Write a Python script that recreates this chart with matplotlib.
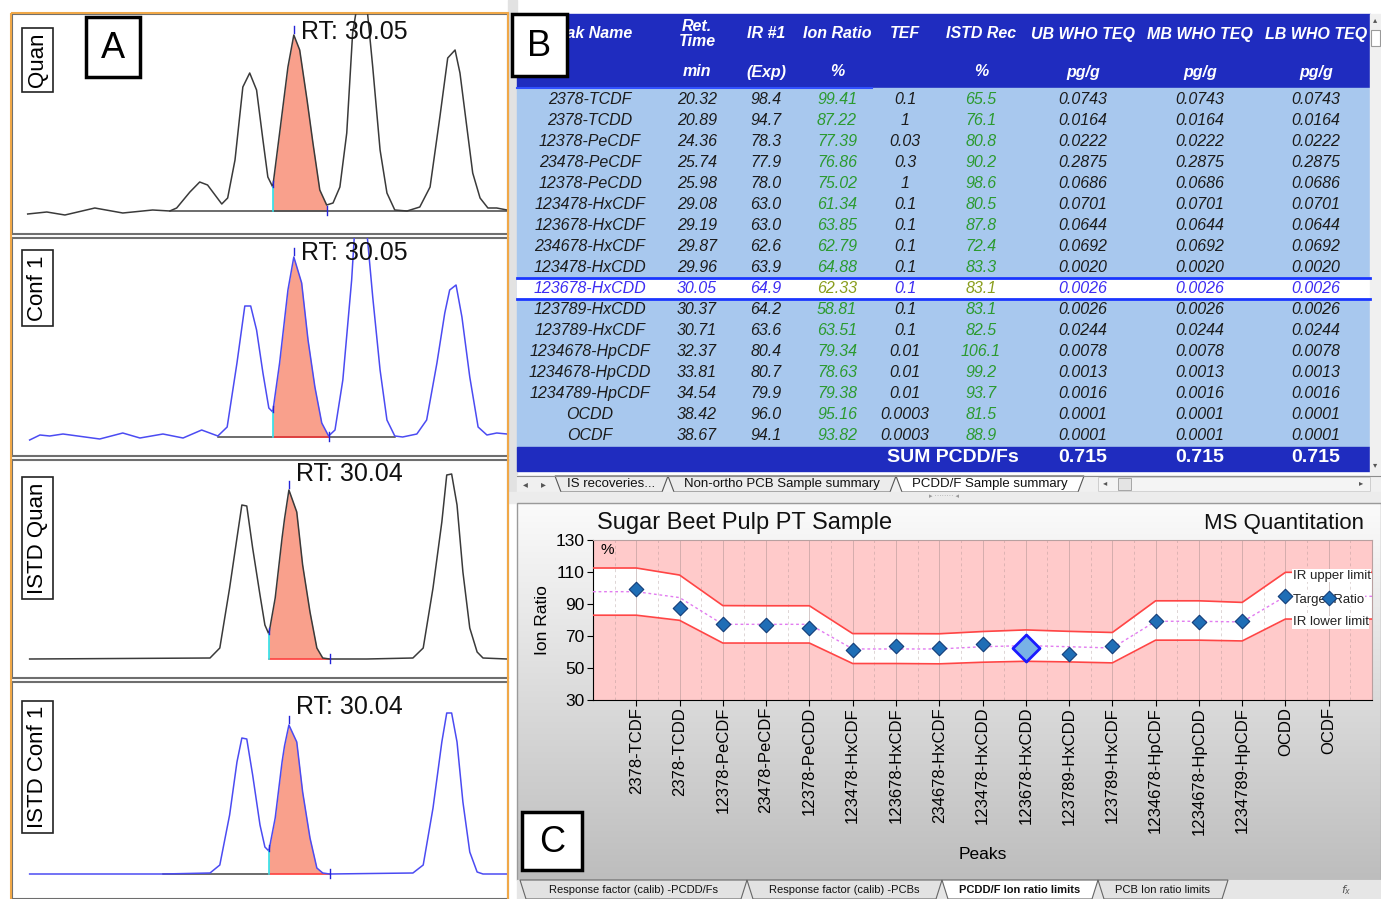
import numpy as np
import matplotlib.pyplot as plt
from matplotlib.patches import Rectangle, Polygon
from matplotlib.colors import LinearSegmentedColormap

W, H = 1381, 899
plt.rcParams['font.family'] = ['Liberation Sans', 'DejaVu Sans']

# ---- chromatograms: retention time (min) and intensity (arbitrary counts) ----
quan_rt = [29.507, 29.546, 29.583, 29.644, 29.701, 29.762, 29.797, 29.811, 29.838, 29.858,
           29.874, 29.903, 29.915, 29.930, 29.946, 29.960, 29.974, 29.987, 29.997, 30.007,
           30.021, 30.038, 30.050, 30.062, 30.077, 30.089, 30.103, 30.117, 30.130, 30.144,
           30.158, 30.170, 30.179, 30.199, 30.211, 30.226, 30.240, 30.256, 30.281, 30.307,
           30.328, 30.348, 30.364, 30.379, 30.389, 30.403, 30.415, 30.430, 30.446, 30.464,
           30.485]
quan_int = [-3, -1, -4, 3, -2, 1, 0, 3, 19, 29,
            26, 7, 13, 51, 124, 138, 121, 71, 34, 24,
            78, 144, 176, 161, 111, 68, 21, 6, 8, 24,
            78, 178, 205, 205, 144, 61, 18, 1, 0, 4,
            24, 94, 153, 161, 138, 84, 38, 13, 3, 3,
            1]

conf_rt = [29.511, 29.532, 29.552, 29.579, 29.654, 29.701, 29.736, 29.783, 29.824, 29.862,
           29.895, 29.914, 29.934, 29.950, 29.962, 29.974, 29.987, 29.999, 30.007, 30.021,
           30.038, 30.050, 30.066, 30.079, 30.093, 30.107, 30.121, 30.134, 30.150, 30.168,
           30.174, 30.199, 30.211, 30.226, 30.240, 30.256, 30.272, 30.301, 30.321, 30.342,
           30.358, 30.368, 30.381, 30.393, 30.409, 30.426, 30.444, 30.464, 30.485]
conf_int = [-3, 2, 1, 3, -2, 4, -1, 3, -1, 7,
            1, 10, 74, 131, 131, 107, 64, 29, 25, 74,
            147, 180, 154, 97, 50, 14, 1, 7, 57, 157,
            205, 205, 140, 67, 17, 1, 0, 3, 17, 74,
            124, 147, 152, 120, 60, 10, 2, 4, 3]

istd_quan_rt = [29.511, 29.879, 29.899, 29.919, 29.934, 29.944, 29.954, 29.966, 29.981, 29.991,
                29.999, 30.012, 30.026, 30.031, 30.040, 30.056, 30.068, 30.083, 30.097, 30.109,
                30.123, 30.199, 30.293, 30.314, 30.334, 30.352, 30.362, 30.372, 30.383, 30.395,
                30.409, 30.424, 30.436, 30.485]
istd_quan_int = [0, 1, 11, 71, 121, 154, 153, 111, 64, 34,
                 25, 61, 121, 140, 169, 147, 94, 47, 11, 1,
                 0, 0, 1, 11, 71, 137, 184, 185, 154, 87,
                 31, 7, 1, 0]

istd_conf_rt = [29.511, 29.783, 29.879, 29.899, 29.919, 29.934, 29.944, 29.954, 29.966, 29.981,
                29.991, 29.999, 30.012, 30.026, 30.031, 30.040, 30.056, 30.068, 30.083, 30.097,
                30.109, 30.123, 30.293, 30.314, 30.334, 30.352, 30.362, 30.372, 30.383, 30.395,
                30.409, 30.424, 30.436, 30.485]
istd_conf_int = [0, 0, 1, 9, 59, 112, 136, 135, 99, 49,
                 27, 23, 56, 112, 128, 149, 132, 82, 36, 6,
                 1, 0, 1, 9, 66, 132, 161, 161, 132, 72,
                 22, 2, 0, 0]

trace_labels = ['Quan', 'Conf 1', 'ISTD Quan', 'ISTD Conf 1']
apex_rt = [30.05, 30.05, 30.04, 30.04]
integ_start = [30.007, 30.007, 29.999, 29.999]
integ_end = [30.117, 30.121, 30.123, 30.123]
baseline_span = [(29.797, 30.485), (29.895, 30.256), None, (29.783, 29.999)]

# ---- PCDD/F sample summary ----
peaks = ['2378-TCDF', '2378-TCDD', '12378-PeCDF', '23478-PeCDF', '12378-PeCDD',
         '123478-HxCDF', '123678-HxCDF', '234678-HxCDF', '123478-HxCDD', '123678-HxCDD',
         '123789-HxCDD', '123789-HxCDF', '1234678-HpCDF', '1234678-HpCDD', '1234789-HpCDF',
         'OCDD', 'OCDF']
ret_time = [20.32, 20.89, 24.36, 25.74, 25.98, 29.08, 29.19, 29.87, 29.96, 30.05,
            30.37, 30.71, 32.37, 33.81, 34.54, 38.42, 38.67]
ir_exp = [98.4, 94.7, 78.3, 77.9, 78.0, 63.0, 63.0, 62.6, 63.9, 64.9,
          64.2, 63.6, 80.4, 80.7, 79.9, 96.0, 94.1]
ion_ratio = [99.41, 87.22, 77.39, 76.86, 75.02, 61.34, 63.85, 62.79, 64.88, 62.33,
             58.81, 63.51, 79.34, 78.63, 79.38, 95.16, 93.82]
tef = ['0.1', '1', '0.03', '0.3', '1', '0.1', '0.1', '0.1', '0.1', '0.1',
       '0.1', '0.1', '0.01', '0.01', '0.01', '0.0003', '0.0003']
istd_rec = [65.5, 76.1, 80.8, 90.2, 98.6, 80.5, 87.8, 72.4, 83.3, 83.1,
            83.1, 82.5, 106.1, 99.2, 93.7, 81.5, 88.9]
who_teq = [0.0743, 0.0164, 0.0222, 0.2875, 0.0686, 0.0701, 0.0644, 0.0692, 0.0020, 0.0026,
           0.0026, 0.0244, 0.0078, 0.0013, 0.0016, 0.0001, 0.0001]
selected = 9  # 123678-HxCDD

# ---- ion ratio limits ----
target_ratio = [97.7, 94.0, 77.3, 77.3, 77.3, 61.9, 61.9, 61.9, 63.3, 64.0,
                63.3, 62.5, 79.2, 79.2, 78.8, 94.8, 94.8]
ir_upper = [112.5, 108.1, 89.0, 88.9, 88.9, 71.5, 71.5, 71.4, 72.8, 73.8,
            72.9, 72.2, 92.0, 92.0, 91.0, 109.8, 109.8]
ir_lower = [83.0, 79.8, 65.6, 65.6, 65.6, 52.8, 52.8, 52.6, 53.6, 54.2,
            53.8, 53.2, 67.4, 67.4, 66.9, 80.6, 80.6]

HEAD_BLUE = '#1f2cbf'
ROW_BLUE = '#a8c8ee'
GREEN = '#2c9a30'
SEL_BLUE = '#3d2cf2'
SEL_GREEN = '#8a9e1e'
FILL = '#f9a08c'

fig = plt.figure(figsize=(W / 100, H / 100), dpi=100)


def px_axes(x0, y0, x1, y1, **kw):
    return fig.add_axes([x0 / W, 1 - y1 / H, (x1 - x0) / W, (y1 - y0) / H], **kw)


bg = px_axes(0, 0, W, H, zorder=0)
bg.set_xlim(0, W)
bg.set_ylim(H, 0)
bg.axis('off')

# ---------------- A: chromatograms ----------------
traces = [(quan_rt, quan_int), (conf_rt, conf_int),
          (istd_quan_rt, istd_quan_int), (istd_conf_rt, istd_conf_int)]
panel_px = [(14, 234), (238, 456), (460, 678), (682, 899)]
panel_ylim = [(-23, 197), (-19, 199), (-19, 199), (-25, 192)]
trace_col = ['#3a3a3a', '#4b4bf2', '#3a3a3a', '#4b4bf2']
rt_dy = [3, 4, 16, 18]
label_yc = [60, 288, 538, 767]

for i, (rt, inten) in enumerate(traces):
    rt = np.array(rt)
    inten = np.array(inten, dtype=float)
    y0, y1 = panel_px[i]
    ax = px_axes(12, y0, 508, y1, zorder=1)
    ax.set_xlim(29.475, 30.487)
    ax.set_ylim(*panel_ylim[i])
    ax.set_xticks([])
    ax.set_yticks([])
    for s in ax.spines.values():
        s.set_color('#6e6e6e')
        s.set_linewidth(1.5)

    s0, s1 = integ_start[i], integ_end[i]
    win = (rt >= s0 - 1e-9) & (rt <= s1 + 1e-9)
    ax.fill_between(rt[win], inten[win], 0, color=FILL, lw=0, zorder=1)
    if baseline_span[i] is not None:
        b0, b1 = baseline_span[i]
        ax.plot([b0, b1], [0, 0], color='#444444', lw=1.1, zorder=2)
    ax.plot([s0, s1], [0, 0], color='#ff3b3b' if i else '#555555', lw=1.1, zorder=2)
    ax.plot(rt, inten, color=trace_col[i], lw=1.1, zorder=3)

    i_start = inten[np.argmin(abs(rt - s0))]
    ax.plot([s0, s0], [0, i_start], color='#2fe0e8', lw=1.2, zorder=4)
    ax.plot([s0, s0], [i_start, i_start + 6], color='#2424d8', lw=1, zorder=4)
    ax.plot([s1, s1], [-4, 5], color='#2424d8', lw=1, zorder=4)

    a = apex_rt[i]
    a_int = inten[np.argmin(abs(rt - a))]
    ax.plot([a, a], [a_int + 2, a_int + 9], color='#2424d8', lw=1, zorder=4)
    ax.annotate(f'RT: {a:.2f}', xy=(a, a_int), xytext=(7, rt_dy[i]),
                textcoords='offset pixels', fontsize=18, ha='left', va='center',
                color='#111111', zorder=5, annotation_clip=False)

ov = px_axes(0, 0, W, H, zorder=5)
ov.set_xlim(0, W)
ov.set_ylim(H, 0)
ov.axis('off')
ov.patch.set_alpha(0)

for lbl, yc in zip(trace_labels, label_yc):
    ov.text(37.5, yc, lbl, rotation=90, fontsize=16, ha='center', va='center',
            bbox=dict(boxstyle='square,pad=0.22', fc='white', ec='#222222', lw=1.2))

# orange frame around the chromatogram stack
ov.add_patch(Rectangle((11, 13), 497, 890, fill=False, ec='#f0a848', lw=1.5))

# ---------------- B: sample summary table ----------------
bg.add_patch(Rectangle((508, 0), 9, 500, color='#e2e2e2'))
bg.add_patch(Rectangle((517, 14), 853, 74, color=HEAD_BLUE))
bg.add_patch(Rectangle((517, 88), 853, 359, color=ROW_BLUE))
bg.add_patch(Rectangle((517, 447), 853, 24, color=HEAD_BLUE))
bg.plot([517, 872], [88, 88], color='#3050ff', lw=1.5)

col_x = [590, 697, 766, 837, 905, 981, 1083, 1200, 1316]
head1 = ['Peak Name', 'Ret.\nTime', 'IR #1', 'Ion Ratio', 'TEF', 'ISTD Rec',
         'UB WHO TEQ', 'MB WHO TEQ', 'LB WHO TEQ']
head2 = ['', 'min', '(Exp)', '%', '', '%', 'pg/g', 'pg/g', 'pg/g']
for x, h1, h2 in zip(col_x, head1, head2):
    bg.text(x, 34, h1, color='white', fontsize=11.5, fontweight='bold', style='italic',
            ha='center', va='center', linespacing=0.95)
    bg.text(x, 72, h2, color='white', fontsize=11.5, fontweight='bold', style='italic',
            ha='center', va='center')

row_h = 21.06
ys = 99 + row_h * np.arange(len(peaks))
sel_y = ys[selected]
bg.add_patch(Rectangle((517, sel_y - row_h / 2), 853, row_h, color='white'))
bg.plot([517, 1370], [sel_y - row_h / 2] * 2, color='#1a36ff', lw=2)
bg.plot([517, 1370], [sel_y + row_h / 2] * 2, color='#1a36ff', lw=2)

for i, y in enumerate(ys):
    sel = i == selected
    black = SEL_BLUE if sel else '#1c1c1c'
    green = SEL_GREEN if sel else GREEN
    cells = [(peaks[i], black), (f'{ret_time[i]:.2f}', black), (f'{ir_exp[i]:.1f}', black),
             (f'{ion_ratio[i]:.2f}', green), (tef[i], black), (f'{istd_rec[i]:.1f}', green),
             (f'{who_teq[i]:.4f}', black), (f'{who_teq[i]:.4f}', black),
             (f'{who_teq[i]:.4f}', black)]
    for x, (txt, c) in zip(col_x, cells):
        bg.text(x, y, txt, color=c, fontsize=11.5, style='italic', ha='center', va='center')

teq_sum = f'{sum(who_teq):.3f}'
bg.text(953, 458, 'SUM PCDD/Fs', color='white', fontsize=14, fontweight='bold',
        ha='center', va='center')
for x in col_x[6:]:
    bg.text(x, 458, teq_sum, color='white', fontsize=14, fontweight='bold',
            ha='center', va='center')

# vertical scroll bar
bg.add_patch(Rectangle((1370, 14), 11, 461, color='#f0f0f0'))
bg.add_patch(Rectangle((1371, 30), 9, 16, fc='white', ec='#9a9a9a', lw=0.8))
bg.text(1375.5, 21, '▴', fontsize=6, ha='center', va='center', color='#555555')
bg.text(1375.5, 466, '▾', fontsize=6, ha='center', va='center', color='#555555')

# sheet tabs under the table
bg.add_patch(Rectangle((517, 475), 864, 17, color='#f0f0f0'))
bg.plot([517, 1381], [475.5, 475.5], color='#8c8c8c', lw=0.8)
bg.text(525, 484, '◂', fontsize=7, ha='center', va='center', color='#555555')
bg.text(543, 484, '▸', fontsize=7, ha='center', va='center', color='#555555')
top_tabs = [('IS recoveries...', 555, 668, False),
            ('Non-ortho PCB Sample summary', 668, 896, False),
            ('PCDD/F Sample summary', 896, 1084, True)]
for txt, x0, x1, active in top_tabs:
    bg.add_patch(Polygon([(x0, 476), (x0 + 6, 492), (x1 - 6, 492), (x1, 476)],
                         closed=True, fc='white' if active else '#ececec',
                         ec='#555555', lw=0.8))
    bg.text((x0 + x1) / 2, 484, txt, fontsize=9.5, ha='center', va='center', color='#111111')
bg.add_patch(Rectangle((1098, 477), 272, 14, fc='#f4f4f4', ec='#c8c8c8', lw=0.6))
bg.add_patch(Rectangle((1118, 478), 13, 12, fc='#e4e4e4', ec='#9a9a9a', lw=0.6))
bg.text(1105, 484, '◂', fontsize=6, ha='center', va='center', color='#555555')
bg.text(1361, 484, '▸', fontsize=6, ha='center', va='center', color='#555555')
bg.add_patch(Rectangle((508, 492), 873, 11, color='#ececec'))
bg.text(944, 497, '▸ ········ ◂', fontsize=5, ha='center', va='center', color='#9a9a9a')

# ---------------- C: ion ratio limits chart ----------------
grad = LinearSegmentedColormap.from_list('panel', ['#fbfbfb', '#bdbdbd'])
bg.imshow(np.linspace(0, 1, 256).reshape(-1, 1), cmap=grad, aspect='auto',
          extent=(517, 1381, 880, 503), zorder=0)
bg.add_patch(Rectangle((517, 503), 864, 377, fill=False, ec='#9a9a9a', lw=1))
bg.set_xlim(0, W)
bg.set_ylim(H, 0)

bg.text(597, 523, 'Sugar Beet Pulp PT Sample', fontsize=17, ha='left', va='center',
        color='#111111')
bg.text(1364, 523, 'MS Quantitation', fontsize=16, ha='right', va='center', color='#111111')

ax_c = px_axes(593, 540, 1372, 700, zorder=2)
n = len(peaks)
cats = np.arange(1, n + 1)
x_band = np.concatenate([[0], cats, [n + 1]])


def edge_extend(v):
    return np.concatenate([[v[0]], v, [v[-1]]])


ax_c.set_facecolor('#ffcaca')
ax_c.fill_between(x_band, edge_extend(ir_lower), edge_extend(ir_upper), color='white',
                  lw=0, zorder=1)
for x in cats:
    ax_c.axvline(x, color='#a08888', lw=0.7, alpha=0.45, zorder=2)
for x in np.arange(0.5, n + 1, 1.0):
    ax_c.axvline(x, color='#a08888', lw=0.7, alpha=0.35, ls=(0, (3, 3)), zorder=2)
ax_c.plot(x_band, edge_extend(ir_upper), color='#ff4545', lw=1.2, zorder=3)
ax_c.plot(x_band, edge_extend(ir_lower), color='#ff4545', lw=1.2, zorder=3)
ax_c.plot(x_band, edge_extend(target_ratio), color='#e27cf0', lw=1, ls=(0, (2, 2)), zorder=3)

mask = np.arange(n) != selected
ax_c.scatter(cats[mask], np.array(ion_ratio)[mask], marker='D', s=55, c='#1f6eb6',
             edgecolors='#123c78', linewidths=0.8, zorder=5)
ax_c.scatter([cats[selected]], [ion_ratio[selected]], marker='D', s=190, c='#78b2e6',
             edgecolors='#1a1aff', linewidths=2, zorder=6)

lbl_x = n - 0.83
for txt, vals in [('IR upper limit', ir_upper), ('Target Ratio', target_ratio),
                  ('IR lower limit', ir_lower)]:
    ax_c.text(lbl_x, vals[-2] - 2, txt, fontsize=9.5, ha='left', va='center', color='#222222',
              zorder=4, bbox=dict(boxstyle='square,pad=0.05', fc='white', ec='none'))

ax_c.set_xlim(0, n + 1)
ax_c.set_ylim(30, 130)
ax_c.set_yticks(np.arange(30, 131, 20))
ax_c.set_xticks(cats, peaks, rotation=90, fontsize=12)
ax_c.tick_params(axis='y', labelsize=12.5, length=4, pad=2)
ax_c.tick_params(axis='x', length=4, pad=1)
for side in ['top', 'right']:
    ax_c.spines[side].set_color('#b8a0a0')
    ax_c.spines[side].set_linewidth(0.8)
ax_c.text(0.01, 0.94, '%', transform=ax_c.transAxes, fontsize=11, ha='left', va='center')
ax_c.set_ylabel('Ion Ratio', fontsize=12.5)
ax_c.yaxis.set_label_coords(-(593 - 550) / 779, 0.5)
ax_c.set_xlabel('Peaks', fontsize=12.5)
ax_c.xaxis.set_label_coords(0.5, -(847 - 700) / 160)

# workbook tabs at the bottom
bg.add_patch(Rectangle((517, 880), 864, 19, color='#e6e6e6', zorder=1))
bot_tabs = [('Response factor (calib) -PCDD/Fs', 520, 747, False),
            ('Response factor (calib) -PCBs', 747, 942, False),
            ('PCDD/F Ion ratio limits', 942, 1098, True),
            ('PCB Ion ratio limits', 1098, 1228, False)]
for txt, x0, x1, active in bot_tabs:
    bg.add_patch(Polygon([(x0, 880), (x0 + 6, 899), (x1 - 6, 899), (x1, 880)], closed=True,
                         fc='white' if active else '#e2e2e2', ec='#666666', lw=0.8, zorder=2))
    bg.text((x0 + x1) / 2, 890, txt, fontsize=8, ha='center', va='center', color='#111111',
            fontweight='bold' if active else 'normal', zorder=3)
bg.text(1346, 890, '$f_x$', fontsize=8, ha='center', va='center', color='#555555', zorder=3)

# panel letters
for letter, (x0, y0, x1, y1) in [('A', (86, 17, 140, 77)), ('B', (512, 14, 567, 76)),
                                 ('C', (522, 812, 582, 870))]:
    ov.add_patch(Rectangle((x0, y0), x1 - x0, y1 - y0, fc='white', ec='black', lw=2.5))
    ov.text((x0 + x1) / 2, (y0 + y1) / 2 + 1, letter, fontsize=26, ha='center', va='center')

fig.savefig('out.png', dpi=100)
